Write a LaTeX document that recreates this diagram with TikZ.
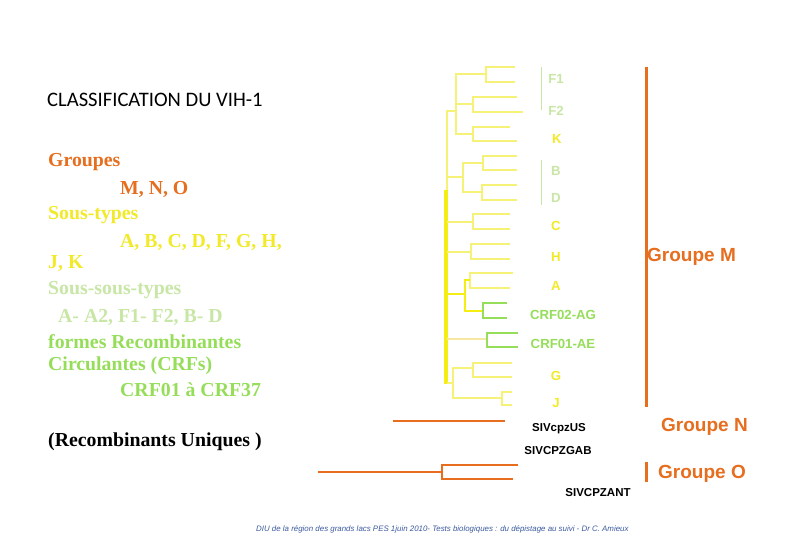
\documentclass[tikz,border=0pt]{standalone}
\usepackage{fontspec}
\setmainfont{Liberation Serif}
\newfontfamily\arialf{Liberation Sans}
\newfontfamily\calib{Carlito}
\definecolor{treeY}{RGB}{246,242,120}
\definecolor{mainY}{RGB}{245,238,20}
\definecolor{paleG}{RGB}{200,230,165}
\definecolor{crfG}{RGB}{150,222,90}
\definecolor{labY}{RGB}{242,234,40}
\definecolor{orng}{RGB}{230,110,30}
\definecolor{footB}{RGB}{60,90,160}
\tikzset{
  treeline/.style={draw=treeY, line width=2.3pt},
  mainline/.style={draw=mainY, line width=4pt},
  crfline/.style={draw=crfG, line width=2.4pt},
  orline/.style={draw=orng, line width=2.6pt},
  leftt/.style={anchor=west, inner sep=0pt, font=\bfseries\fontsize{19.8}{21}\selectfont},
  leaf/.style={inner sep=0pt, font=\arialf\bfseries\fontsize{13.2}{14}\selectfont},
  siv/.style={inner sep=0pt, font=\arialf\bfseries\fontsize{11.5}{13}\selectfont},
  grp/.style={anchor=west, inner sep=0pt, text=orng, font=\arialf\bfseries\fontsize{19}{21}\selectfont}
}
\begin{document}
\begin{tikzpicture}[x=1pt,y=-1pt]
\path[use as bounding box, fill=white] (0,0) rectangle (810,540);

% title
\node[anchor=west, inner sep=0pt, font=\calib\fontsize{20.6}{22}\selectfont] (title) at (47,100) {CLASSIFICATION DU VIH-1};

% left text
\node[leftt, text=orng] (t1) at (48,162) {Groupes};
\node[leftt, text=orng] (t2) at (120,189) {M, N, O};
\node[leftt, text=labY] (t3) at (48,215) {Sous-types};
\node[leftt, text=labY] (t4) at (120,242) {A, B, C, D, F, G, H,};
\node[leftt, text=labY] (t5) at (48,264) {J, K};
\node[leftt, text=paleG] (t6) at (48,290) {Sous-sous-types};
\node[leftt, text=paleG] (t7) at (58,317) {A- A2, F1- F2, B- D};
\node[leftt, text=crfG] (t8) at (48,342) {formes Recombinantes};
\node[leftt, text=crfG] (t9) at (48,366) {Circulantes (CRFs)};
\node[leftt, text=crfG] (t10) at (120,390) {CRF01 à CRF37};
\node[leftt, text=black] (t11) at (48,442) {(Recombinants Uniques )};

% tree of group M
\draw[treeline] (515,67) -- (486,67) -- (486,82) -- (515,82);
\draw[treeline] (517,97) -- (473,97) -- (473,112) -- (523,112);
\draw[treeline] (510,127) -- (473,127) -- (473,141) -- (517,141);
\draw[treeline] (486,74) -- (456,74) -- (456,134) -- (473,134);
\draw[treeline] (456,104) -- (473,104);
\draw[treeline] (517,156) -- (483,156) -- (483,170) -- (517,170);
\draw[treeline] (517,185) -- (482,185) -- (482,200) -- (517,200);
\draw[treeline] (483,163) -- (463,163) -- (463,192) -- (482,192);
\draw[treeline] (463,177) -- (447,177);
\draw[treeline] (456,111) -- (447,111) -- (447,192);
\draw[mainline] (446,190) -- (446,384);
\draw[treeline] (510,214) -- (473,214) -- (473,229) -- (510,229);
\draw[treeline] (447,222) -- (473,222);
\draw[treeline] (510,244) -- (471,244) -- (471,259) -- (510,259);
\draw[treeline] (447,252) -- (471,252);
\draw[treeline] (513,273) -- (470,273) -- (470,288) -- (510,288);
\draw[treeline, draw=mainY] (447,294) -- (465,294);
\draw[treeline, draw=mainY] (470,280) -- (465,280) -- (465,311) -- (483,311);
\draw[crfline] (507,303) -- (483,303) -- (483,318) -- (507,318);
\draw[treeline, draw=treeY!80!orng!60] (447,339) -- (487,339);
\draw[crfline] (518,333) -- (487,333) -- (487,347) -- (518,347);
\draw[treeline] (447,383) -- (453,383);
\draw[treeline] (473,368) -- (453,368) -- (453,398) -- (502,398);
\draw[treeline] (512,363) -- (473,363) -- (473,377) -- (512,377);
\draw[treeline] (512,392) -- (502,392) -- (502,405) -- (512,405);

% brackets for sub-sub-types
\draw[paleG, line width=1pt] (541,67) -- (541,110);
\draw[paleG, line width=1pt] (541,160) -- (541,205);

% leaf labels
\node[leaf, text=paleG] (F1) at (556,79) {F1};
\node[leaf, text=paleG] (F2) at (556,111) {F2};
\node[leaf, text=labY] (K) at (557,139) {K};
\node[leaf, text=paleG] (B) at (556,171) {B};
\node[leaf, text=paleG] (D) at (556,198) {D};
\node[leaf, text=labY] (C) at (556,226) {C};
\node[leaf, text=labY] (H) at (556,257) {H};
\node[leaf, text=labY] (A) at (556,286) {A};
\node[leaf, text=crfG] (crf02) at (563,315) {CRF02-AG};
\node[leaf, text=crfG] (crf01) at (563,344) {CRF01-AE};
\node[leaf, text=labY] (G) at (556,376) {G};
\node[leaf, text=labY] (J) at (556,403) {J};

% groups N and O
\draw[orline] (393,421) -- (505,421);
\draw[orline] (318,472) -- (442,472);
\draw[orline] (518,465) -- (442,465) -- (442,479) -- (513,479);
\node[siv] (us) at (559,429) {SIVcpzUS};
\node[siv] (gab) at (558,451) {SIVCPZGAB};
\node[siv] (ant) at (598,493) {SIVCPZANT};

% group bars
\draw[orng, line width=3pt] (646,67) -- (646,407);
\draw[orng, line width=3pt] (646,462) -- (646,482);
\node[grp] (gM) at (647,257) {Groupe M};
\node[grp] (gN) at (661,427) {Groupe N};
\node[grp] (gO) at (658,474) {Groupe O};

% footer
\node[anchor=west, inner sep=0pt, text=footB, font=\arialf\itshape\fontsize{7.9}{9}\selectfont] (foot) at (256,529) {DIU de la région des grands lacs PES 1juin 2010- Tests biologiques : du dépistage au suivi - Dr C. Amieux};
\end{tikzpicture}
\end{document}
